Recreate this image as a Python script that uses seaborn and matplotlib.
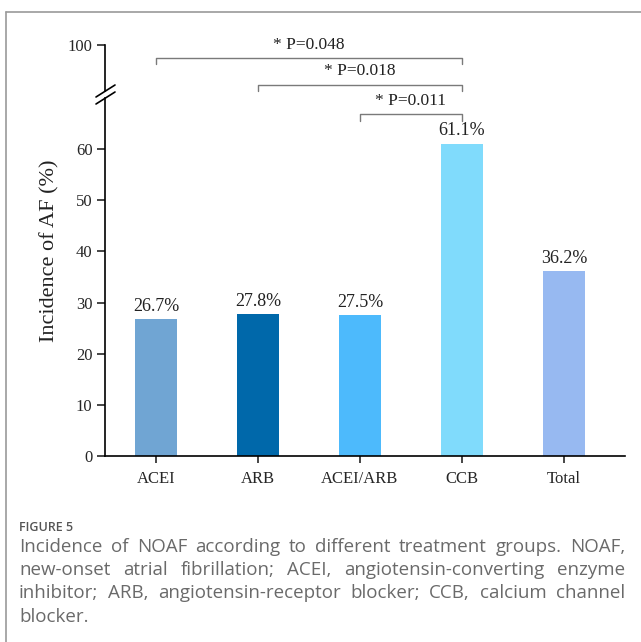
import matplotlib
matplotlib.use("Agg")
import matplotlib.pyplot as plt
from matplotlib.lines import Line2D
import seaborn as sns

groups = ["ACEI", "ARB", "ACEI/ARB", "CCB", "Total"]
incidence = [26.7, 27.8, 27.5, 61.1, 36.2]
bar_colors = ["#70A5D3", "#0068AA", "#4DBAFC", "#80DBFC", "#97B9F1"]

# pairwise comparisons against CCB
comp_left = ["ACEI", "ARB", "ACEI/ARB"]
comp_right = ["CCB", "CCB", "CCB"]
comp_text = ["* P=0.048", "* P=0.018", "* P=0.011"]

caption_title = "FIGURE 5"
caption_lines = [
    "Incidence of NOAF according to different treatment groups. NOAF,",
    "new-onset atrial fibrillation; ACEI, angiotensin-converting enzyme",
    "inhibitor; ARB, angiotensin-receptor blocker; CCB, calcium channel",
    "blocker.",
]

W, H = 641, 642
sns.set_style("white")
plt.rcParams["font.family"] = ["Liberation Serif", "DejaVu Serif"]

fig = plt.figure(figsize=(W / 100, H / 100), dpi=100)


def fx(px):
    return px / W


def fy(py):
    return 1 - py / H


# main axes (0-70) and small top axes holding the 100 tick
ax = fig.add_axes([fx(105), fy(456), fx(625) - fx(105), fy(98) - fy(456)])
ax_top = fig.add_axes([fx(105), fy(91), fx(625) - fx(105), fy(45) - fy(91)])

sns.barplot(x=groups, y=incidence, hue=groups, palette=bar_colors, legend=False,
            width=0.41, saturation=1, linewidth=0, ax=ax)

ax.set_xlim(-0.5, 4.6)
ax.set_ylim(0, 70)
ax.set_yticks([0, 10, 20, 30, 40, 50, 60])
ax.set_xlabel("")
ax.set_ylabel("")
for s in ["top", "right"]:
    ax.spines[s].set_visible(False)
for s in ["left", "bottom"]:
    ax.spines[s].set_linewidth(1.2)
    ax.spines[s].set_color("black")
ax.tick_params(axis="y", direction="out", length=6, width=1.2, pad=3, labelsize=12, left=True)
ax.tick_params(axis="x", direction="out", length=5, width=1.2, pad=6, labelsize=12, bottom=True)

ax_top.set_xlim(-0.5, 4.6)
ax_top.set_ylim(95, 100)
ax_top.set_yticks([100])
ax_top.set_xticks([])
ax_top.patch.set_alpha(0)
for s in ["top", "right", "bottom"]:
    ax_top.spines[s].set_visible(False)
ax_top.spines["left"].set_linewidth(1.2)
ax_top.spines["left"].set_color("black")
ax_top.tick_params(axis="y", direction="out", length=6, width=1.2, pad=3, labelsize=12, left=True)

# value labels
for i, v in enumerate(incidence):
    ax.text(i, v + 1.6, f"{v}%", ha="center", va="baseline", fontsize=13, color="#222222")

# significance brackets
levels = [77.8, 72.6, 66.8]
for a, b, t, y in zip(comp_left, comp_right, comp_text, levels):
    x1, x2 = groups.index(a), groups.index(b)
    ax.plot([x1, x1, x2, x2], [y - 1.2, y, y, y - 1.2], color="#7a7a7a", lw=1.0,
            clip_on=False)
    ax.text((x1 + x2) / 2, y + 1.8, t, ha="center", va="baseline", fontsize=12.5,
            color="#222222", clip_on=False)

# axis break marks
for y0 in [97, 104]:
    fig.add_artist(Line2D([fx(96), fx(115)], [fy(y0), fy(y0 - 12)], color="black", lw=1.2))

fig.text(fx(50), fy(251), "Incidence of AF (%)", rotation=90, ha="center", va="center",
         fontsize=16, color="#222222")

# frame around the figure panel
fig.add_artist(Line2D([fx(6), fx(6)], [fy(12), 0], color="#9a9a9a", lw=1.2))
fig.add_artist(Line2D([fx(6), 1], [fy(12), fy(12)], color="#9a9a9a", lw=1.2))

# caption
fig.text(fx(19), fy(531), caption_title, ha="left", va="baseline", fontsize=9,
         family="Open Sans", weight="semibold", color="#555555")

renderer = fig.canvas.get_renderer()
x_left, x_right = 19, 625
baselines = [552, 575, 598, 622]
cap_kw = dict(fontsize=13.5, family="Open Sans", color="#6a6a6a", va="baseline")
for k, line in enumerate(caption_lines):
    words = line.split(" ")
    if k == len(caption_lines) - 1:
        fig.text(fx(x_left), fy(baselines[k]), line, ha="left", **cap_kw)
        continue
    widths = []
    for w in words:
        t = fig.text(0, 0, w, **cap_kw)
        widths.append(t.get_window_extent(renderer).width)
        t.remove()
    gap = (x_right - x_left - sum(widths)) / (len(words) - 1)
    x = x_left
    for w, wd in zip(words, widths):
        fig.text(fx(x), fy(baselines[k]), w, ha="left", **cap_kw)
        x += wd + gap

fig.savefig("out.png", dpi=100)
